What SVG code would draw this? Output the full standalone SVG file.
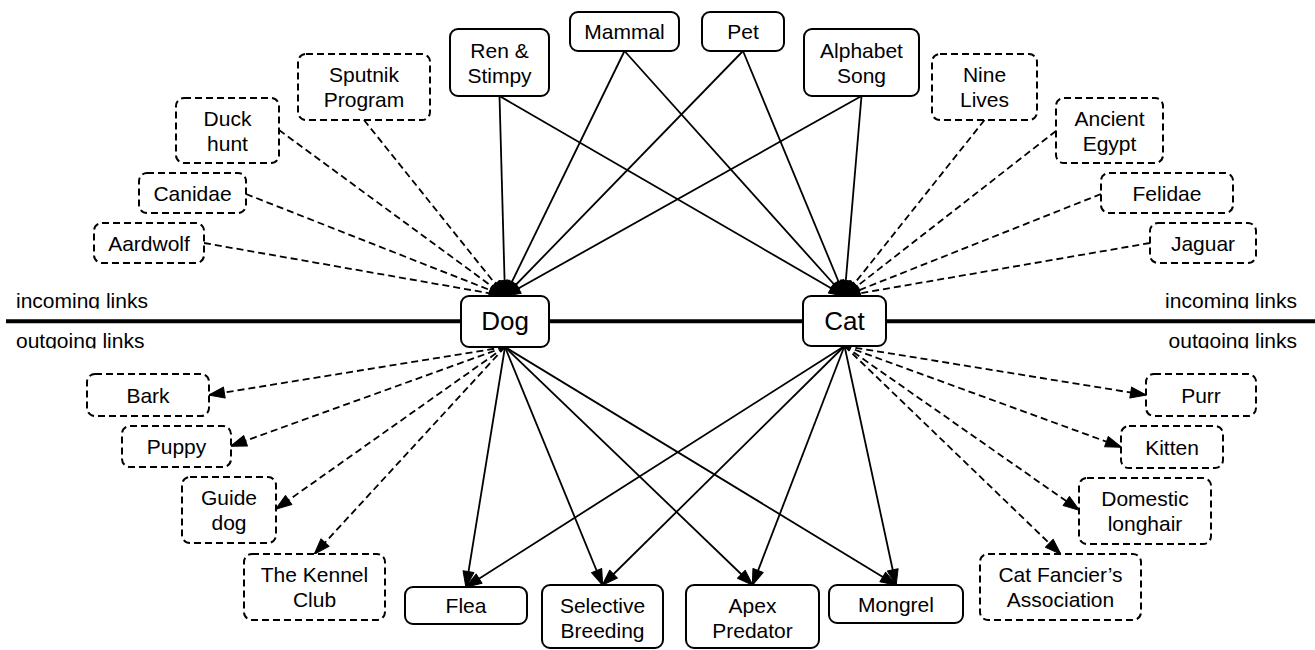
<svg xmlns="http://www.w3.org/2000/svg" width="1315" height="650" viewBox="0 0 1315 650">
<defs>
<style>
.box{fill:#fff;stroke:#000;stroke-width:2}
.dbox{fill:#fff;stroke:#000;stroke-width:2;stroke-dasharray:7 4}
.t{font-family:"Liberation Sans",Arial,sans-serif;font-size:21px;fill:#000;text-anchor:middle}
.big{font-size:26px}
.lbl{font-family:"Liberation Sans",Arial,sans-serif;font-size:21px;fill:#000}
.ln{fill:none;stroke:#000;stroke-width:1.8}
.dl{fill:none;stroke:#000;stroke-width:1.8;stroke-dasharray:7 4}
</style>
<marker id="ah" viewBox="-1 -1 18 13" markerUnits="userSpaceOnUse" markerWidth="18" markerHeight="13" refX="15.5" refY="5.5" orient="auto">
<path d="M0,0 L16,5.5 L0,11 z" fill="#000" stroke="#000" stroke-width="1" stroke-linejoin="round"/>
</marker>
<clipPath id="clipTop"><rect x="0" y="280" width="1315" height="28.8"/></clipPath>
<clipPath id="clipBot"><rect x="0" y="328" width="1315" height="20.5"/></clipPath>
</defs>
<rect width="1315" height="650" fill="#fff"/>
<g id="divider">
<line x1="6" y1="321.3" x2="1315" y2="321.3" stroke="#000" stroke-width="4"/>
<text class="lbl" x="16" y="308" clip-path="url(#clipTop)">incoming links</text>
<text class="lbl" x="1297" y="308" text-anchor="end" clip-path="url(#clipTop)">incoming links</text>
<text class="lbl" x="16" y="348" clip-path="url(#clipBot)">outgoing links</text>
<text class="lbl" x="1297" y="348" text-anchor="end" clip-path="url(#clipBot)">outgoing links</text>
</g>
<g id="connectors">
<line class="dl" x1="204" y1="243" x2="505" y2="296" marker-end="url(#ah)"/>
<line class="dl" x1="246" y1="194" x2="505" y2="296" marker-end="url(#ah)"/>
<line class="dl" x1="279" y1="130" x2="505" y2="296" marker-end="url(#ah)"/>
<line class="dl" x1="364" y1="120" x2="505" y2="296" marker-end="url(#ah)"/>
<line class="ln" x1="499.5" y1="96" x2="505" y2="296" marker-end="url(#ah)"/>
<line class="ln" x1="624.5" y1="51" x2="505" y2="296" marker-end="url(#ah)"/>
<line class="ln" x1="743" y1="51" x2="505" y2="296" marker-end="url(#ah)"/>
<line class="ln" x1="861.5" y1="96" x2="505" y2="296" marker-end="url(#ah)"/>
<line class="ln" x1="499.5" y1="96" x2="844.5" y2="296" marker-end="url(#ah)"/>
<line class="ln" x1="624.5" y1="51" x2="844.5" y2="296" marker-end="url(#ah)"/>
<line class="ln" x1="743" y1="51" x2="844.5" y2="296" marker-end="url(#ah)"/>
<line class="ln" x1="861.5" y1="96" x2="844.5" y2="296" marker-end="url(#ah)"/>
<line class="dl" x1="984.5" y1="120" x2="844.5" y2="296" marker-end="url(#ah)"/>
<line class="dl" x1="1056" y1="131" x2="844.5" y2="296" marker-end="url(#ah)"/>
<line class="dl" x1="1101" y1="194" x2="844.5" y2="296" marker-end="url(#ah)"/>
<line class="dl" x1="1150" y1="243" x2="844.5" y2="296" marker-end="url(#ah)"/>
<line class="dl" x1="505" y1="347" x2="209" y2="395" marker-end="url(#ah)"/>
<line class="dl" x1="505" y1="347" x2="231" y2="446" marker-end="url(#ah)"/>
<line class="dl" x1="505" y1="347" x2="276" y2="509" marker-end="url(#ah)"/>
<line class="dl" x1="505" y1="347" x2="314.5" y2="554" marker-end="url(#ah)"/>
<line class="ln" x1="505" y1="347" x2="466" y2="587" marker-end="url(#ah)"/>
<line class="ln" x1="505" y1="347" x2="602.5" y2="585" marker-end="url(#ah)"/>
<line class="ln" x1="505" y1="347" x2="752.5" y2="585" marker-end="url(#ah)"/>
<line class="ln" x1="505" y1="347" x2="896" y2="585" marker-end="url(#ah)"/>
<line class="ln" x1="844.5" y1="346" x2="466" y2="587" marker-end="url(#ah)"/>
<line class="ln" x1="844.5" y1="346" x2="602.5" y2="585" marker-end="url(#ah)"/>
<line class="ln" x1="844.5" y1="346" x2="752.5" y2="585" marker-end="url(#ah)"/>
<line class="ln" x1="844.5" y1="346" x2="896" y2="585" marker-end="url(#ah)"/>
<line class="dl" x1="844.5" y1="346" x2="1146" y2="395" marker-end="url(#ah)"/>
<line class="dl" x1="844.5" y1="346" x2="1121" y2="447" marker-end="url(#ah)"/>
<line class="dl" x1="844.5" y1="346" x2="1079" y2="510" marker-end="url(#ah)"/>
<line class="dl" x1="844.5" y1="346" x2="1060.5" y2="554" marker-end="url(#ah)"/>
</g>
<g id="ren"><rect class="box" x="450" y="29" width="99" height="67" rx="8"/><text class="t" x="499.5" y="57.5">Ren &amp;</text><text class="t" x="499.5" y="82.5">Stimpy</text></g>
<g id="mammal"><rect class="box" x="570" y="12" width="109" height="39" rx="8"/><text class="t" x="624.5" y="39">Mammal</text></g>
<g id="pet"><rect class="box" x="702" y="12" width="82" height="39" rx="8"/><text class="t" x="743" y="39">Pet</text></g>
<g id="alphabet"><rect class="box" x="804" y="29" width="115" height="67" rx="8"/><text class="t" x="861.5" y="57.5">Alphabet</text><text class="t" x="861.5" y="82.5">Song</text></g>
<g id="dog"><rect class="box" x="461" y="296" width="88" height="51" rx="8"/><text class="t big" x="505" y="330">Dog</text></g>
<g id="cat"><rect class="box" x="803" y="296" width="83" height="50" rx="8"/><text class="t big" x="844.5" y="329.5">Cat</text></g>
<g id="flea"><rect class="box" x="405" y="587" width="122" height="37" rx="8"/><text class="t" x="466" y="613">Flea</text></g>
<g id="selective"><rect class="box" x="542" y="585" width="121" height="63" rx="8"/><text class="t" x="602.5" y="612.5">Selective</text><text class="t" x="602.5" y="637.5">Breeding</text></g>
<g id="apex"><rect class="box" x="686" y="585" width="133" height="63" rx="8"/><text class="t" x="752.5" y="612.5">Apex</text><text class="t" x="752.5" y="637.5">Predator</text></g>
<g id="mongrel"><rect class="box" x="829" y="585" width="134" height="38" rx="8"/><text class="t" x="896" y="611.5">Mongrel</text></g>
<g id="sputnik"><rect class="dbox" x="298" y="54" width="132" height="66" rx="8"/><text class="t" x="364" y="82">Sputnik</text><text class="t" x="364" y="107">Program</text></g>
<g id="duck"><rect class="dbox" x="176" y="98" width="103" height="65" rx="8"/><text class="t" x="227.5" y="125.5">Duck</text><text class="t" x="227.5" y="150.5">hunt</text></g>
<g id="canidae"><rect class="dbox" x="139" y="173" width="107" height="40" rx="8"/><text class="t" x="192.5" y="200.5">Canidae</text></g>
<g id="aardwolf"><rect class="dbox" x="94" y="223" width="110" height="40" rx="8"/><text class="t" x="149" y="250.5">Aardwolf</text></g>
<g id="nine"><rect class="dbox" x="932" y="54" width="105" height="66" rx="8"/><text class="t" x="984.5" y="82">Nine</text><text class="t" x="984.5" y="107">Lives</text></g>
<g id="egypt"><rect class="dbox" x="1056" y="98" width="107" height="65" rx="8"/><text class="t" x="1109.5" y="125.5">Ancient</text><text class="t" x="1109.5" y="150.5">Egypt</text></g>
<g id="felidae"><rect class="dbox" x="1101" y="173" width="132" height="40" rx="8"/><text class="t" x="1167" y="200.5">Felidae</text></g>
<g id="jaguar"><rect class="dbox" x="1150" y="223" width="106" height="40" rx="8"/><text class="t" x="1203" y="250.5">Jaguar</text></g>
<g id="bark"><rect class="dbox" x="87" y="374" width="122" height="42" rx="8"/><text class="t" x="148" y="402.5">Bark</text></g>
<g id="puppy"><rect class="dbox" x="122" y="426" width="109" height="41" rx="8"/><text class="t" x="176.5" y="454">Puppy</text></g>
<g id="guide"><rect class="dbox" x="182" y="477" width="94" height="66" rx="8"/><text class="t" x="229" y="505">Guide</text><text class="t" x="229" y="530">dog</text></g>
<g id="kennel"><rect class="dbox" x="244" y="554" width="141" height="66" rx="8"/><text class="t" x="314.5" y="582">The Kennel</text><text class="t" x="314.5" y="607">Club</text></g>
<g id="purr"><rect class="dbox" x="1146" y="374" width="110" height="42" rx="8"/><text class="t" x="1201" y="402.5">Purr</text></g>
<g id="kitten"><rect class="dbox" x="1121" y="426" width="102" height="42" rx="8"/><text class="t" x="1172" y="454.5">Kitten</text></g>
<g id="domestic"><rect class="dbox" x="1079" y="478" width="132" height="66" rx="8"/><text class="t" x="1145" y="506">Domestic</text><text class="t" x="1145" y="531">longhair</text></g>
<g id="fancier"><rect class="dbox" x="980" y="554" width="161" height="66" rx="8"/><text class="t" x="1060.5" y="582">Cat Fancier’s</text><text class="t" x="1060.5" y="607">Association</text></g>
</svg>
